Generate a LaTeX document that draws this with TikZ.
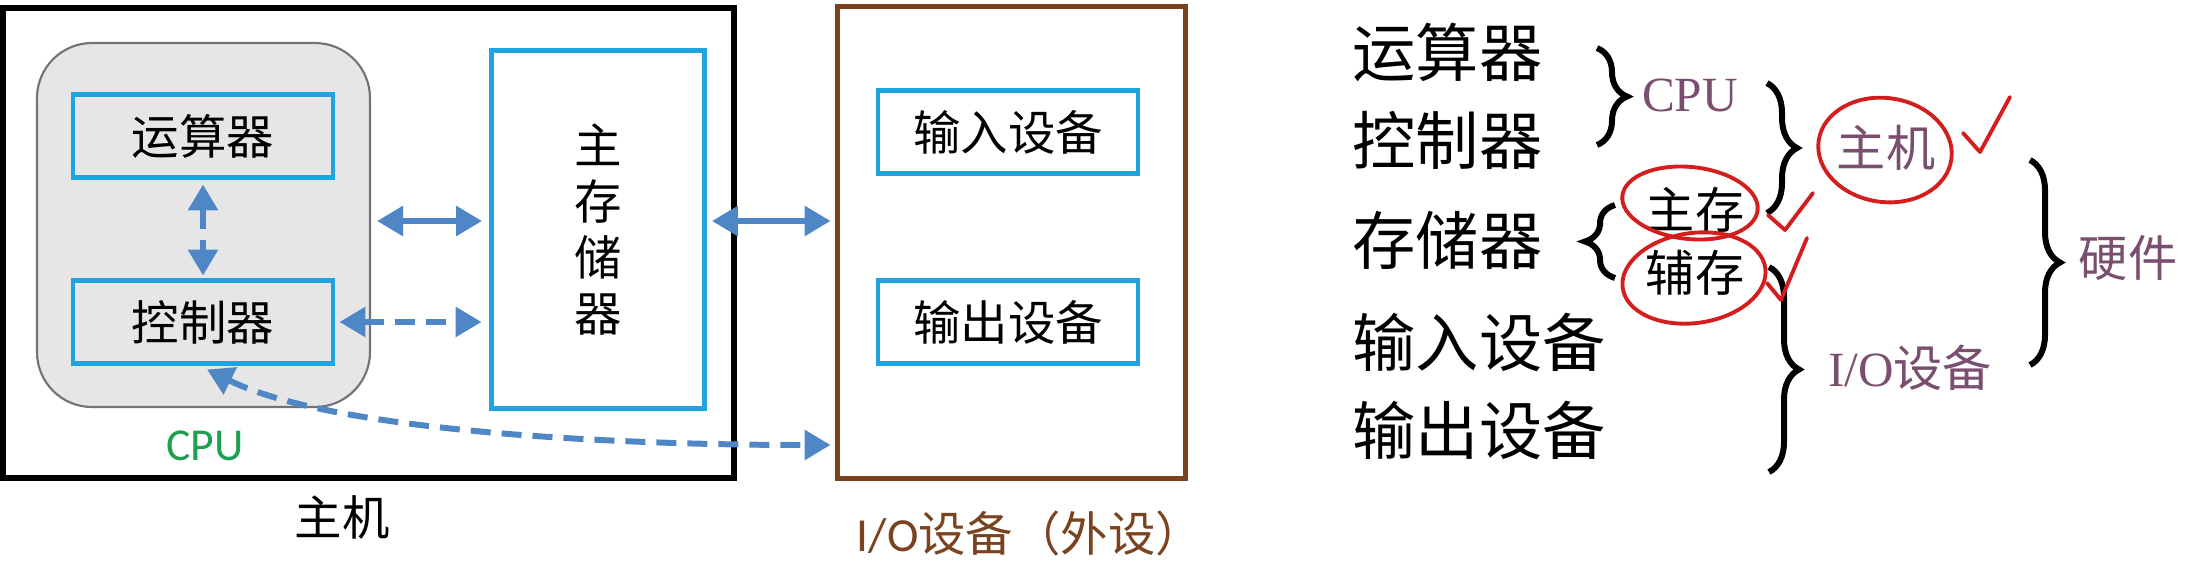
\documentclass[tikz,border=0pt]{standalone}
\usepackage{fontspec}
\setmainfont{Liberation Serif}
\newfontfamily\cjk{Noto Sans CJK SC}
\newfontfamily\cali{Carlito}
\usetikzlibrary{arrows.meta,decorations.pathreplacing}
\definecolor{boxblue}{RGB}{32,164,224}
\definecolor{arrowblue}{RGB}{79,134,198}
\definecolor{cpugray}{RGB}{230,230,230}
\definecolor{iobrown}{RGB}{122,66,30}
\definecolor{cpugreen}{RGB}{30,160,80}
\definecolor{notepurple}{RGB}{122,78,110}
\definecolor{penred}{RGB}{212,30,30}
\newcommand{\boxfont}{\cjk\fontsize{13.5}{16}\selectfont}
\newcommand{\listfont}{\cjk\fontsize{18}{20}\selectfont}
\newcommand{\notefont}{\fontsize{14}{16}\selectfont}

\begin{document}
\begin{tikzpicture}[x=0.1mm,y=-0.1mm,
  unit/.style={draw=boxblue,line width=1.4pt,minimum width=26mm,minimum height=8.3mm,inner sep=0pt,font=\boxfont},
  link/.style={arrowblue,line width=1.7pt,{Triangle[length=2.6mm,width=2.9mm]}-{Triangle[length=2.6mm,width=2.9mm]}},
  dashlink/.style={link,dash pattern=on 2mm off 1.1mm},
  curly/.style={decorate,decoration={brace,amplitude=3mm},line width=1.7pt},
  ring/.style={penred,line width=1.1pt,line cap=round,line join=round},
  note/.style={inner sep=0pt,font=\notefont\cjk},
  ]
\useasboundingbox (0,0) rectangle (2191,564);

% host, cpu and memory
\node[draw,line width=1.7pt,minimum width=73.1mm,minimum height=47mm] (host) at (368.5,243) {};
\node[draw=gray!90!black,fill=cpugray,line width=0.6pt,rounded corners=5.5mm,minimum width=33.3mm,minimum height=36.4mm] (cpu) at (203.5,225) {};
\node[unit,fill=cpugray] (alu) at (203,136) {运算器};
\node[unit,fill=cpugray] (ctrl) at (203,322) {控制器};
\node[unit,minimum width=21.3mm,minimum height=35.8mm,align=center] (mem) at (598,229.5) {主\\存\\储\\器};
\node[text=cpugreen,font=\cali\fontsize{13}{15}\selectfont] (cpulabel) at (205,446) {CPU};
\node[font=\boxfont] (hostlabel) at (342,517) {主机};

% i/o devices
\node[draw=iobrown,line width=1.4pt,minimum width=34.8mm,minimum height=47.2mm] (io) at (1011.5,242.5) {};
\node[unit] (inp) at (1008,132) {输入设备};
\node[unit] (outp) at (1008,322) {输出设备};
\node[text=iobrown,font=\boxfont] (iolabel) at (1030,533) {{\cali I/O}设备（外设）};

\draw[link] ([xshift=0.6mm,yshift=0.85mm]cpu.east |- mem.west) -- ([xshift=-0.7mm,yshift=0.85mm]mem.west);
\draw[link] ([xshift=0.5mm,yshift=0.85mm]mem.east) -- ([xshift=-0.45mm,yshift=0.85mm]mem.east -| io.west);
\draw[dashlink] ([xshift=0.4mm]ctrl.east) -- ([xshift=-0.75mm]ctrl.east -| mem.west);
\draw[dashlink] ([yshift=-0.45mm]alu.south) -- ([yshift=0.25mm]ctrl.north);
\coordinate (ioin) at ([xshift=-0.45mm,yshift=-20.25mm]io.west);
\draw[dashlink] ([xshift=0.4mm,yshift=-0.35mm]ctrl.south) .. controls (330,430) and (600,445) .. (ioin);

% summary on the right
\node[anchor=west,inner sep=0pt,font=\listfont] (l1) at (1352,52) {运算器};
\node[anchor=west,inner sep=0pt,font=\listfont] (l2) at (1352,140) {控制器};
\node[anchor=west,inner sep=0pt,font=\listfont] (l3) at (1352,240) {存储器};
\node[anchor=west,inner sep=0pt,font=\listfont] (l4) at (1352,342) {输入设备};
\node[anchor=west,inner sep=0pt,font=\listfont] (l5) at (1352,430) {输出设备};

\draw[curly] (1597,48) -- (1597,145);
\draw[curly] (1767,83) -- (1767,213);
\draw[curly] (1615,278) -- (1615,205);
\draw[curly] (1769,267) -- (1769,472);
\draw[curly] (2030,160) -- (2030,365);

\node[note,text=notepurple,font=\notefont] (cpunote) at (1690,95) {CPU};
\node[note] (mainmem) at (1695,210) {主存};
\node[note] (auxmem) at (1695,273) {辅存};
\node[note,text=notepurple] (hostnote) at (1886,148) {主机};
\node[note,text=notepurple,font=\notefont] (ionote) at (1910,368) {I/O{\cjk 设备}};
\node[note,text=notepurple] (hwnote) at (2128,258) {硬件};

\draw[ring,rotate around={-8:(1885,150)}] (1885,150) ellipse [x radius=67,y radius=52];
\draw[ring,rotate around={-6:(1690,203)}] (1690,203) ellipse [x radius=68,y radius=36];
\draw[ring,rotate around={8:(1694,278)}] (1694,278) ellipse [x radius=72,y radius=45];
\draw[ring] (1963,133) -- (1980,152) -- (2010,97);
\draw[ring] (1768,215) -- (1785,230) -- (1813,193);
\draw[ring] (1767,283) -- (1781,300) -- (1807,238);
\end{tikzpicture}
\end{document}
